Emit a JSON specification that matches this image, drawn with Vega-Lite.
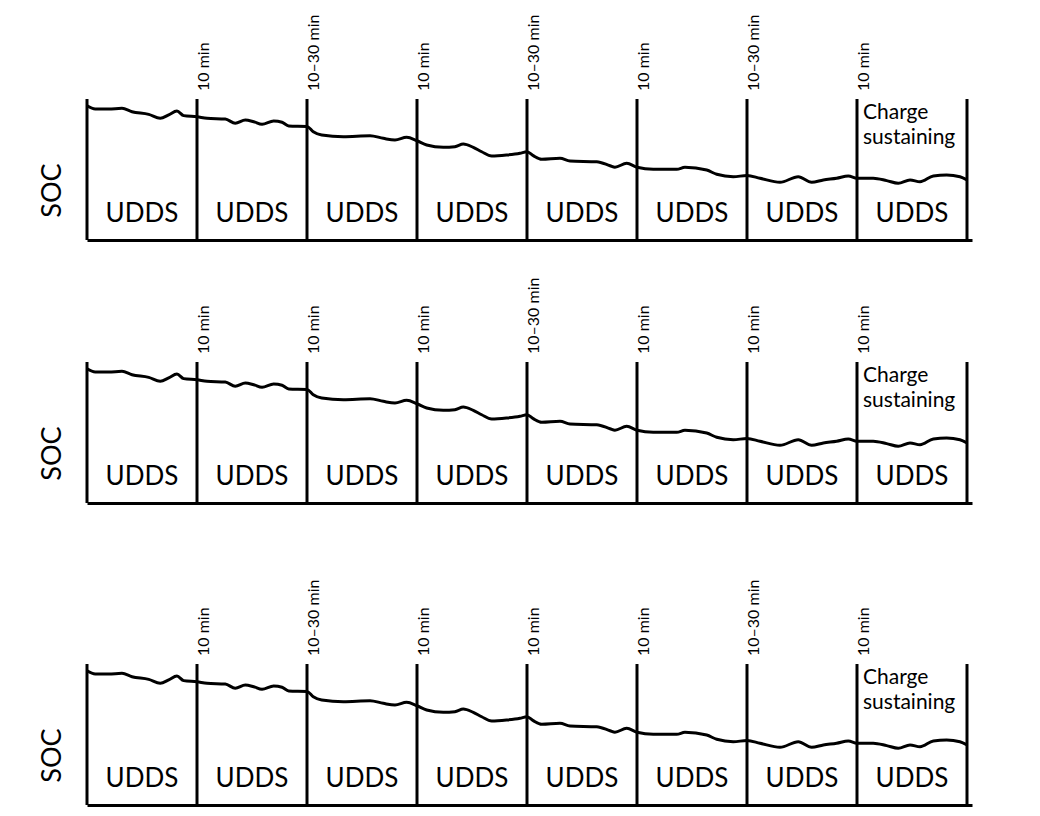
{
  "$schema": "https://vega.github.io/schema/vega-lite/v6.json",
  "background": "white",
  "padding": {"left": 38, "top": 14, "right": 5, "bottom": 5},
  "config": {
    "view": {"stroke": null},
    "font": "Lato"
  },
  "datasets": {
    "soc": [
      {"t": 0, "soc": 95.2}, {"t": 0.075, "soc": 92.9}, {"t": 0.197, "soc": 92.9}, {"t": 0.318, "soc": 93.4},
      {"t": 0.409, "soc": 91.0}, {"t": 0.561, "soc": 89.1}, {"t": 0.666, "soc": 86.3}, {"t": 0.743, "soc": 88.7},
      {"t": 0.818, "soc": 91.5}, {"t": 0.879, "soc": 88.2}, {"t": 1.0, "soc": 87.4}, {"t": 1.091, "soc": 86.3},
      {"t": 1.257, "soc": 85.8}, {"t": 1.348, "soc": 82.8}, {"t": 1.439, "soc": 85.1}, {"t": 1.515, "soc": 83.9},
      {"t": 1.591, "soc": 82.1}, {"t": 1.697, "soc": 84.4}, {"t": 1.773, "soc": 83.5}, {"t": 1.834, "soc": 80.9},
      {"t": 2.0, "soc": 80.5}, {"t": 2.057, "soc": 76.8}, {"t": 2.134, "soc": 74.5}, {"t": 2.33, "soc": 73.3},
      {"t": 2.573, "soc": 74.0}, {"t": 2.694, "soc": 72.1}, {"t": 2.8, "soc": 70.9}, {"t": 2.906, "soc": 72.8},
      {"t": 3.0, "soc": 70.4}, {"t": 3.088, "soc": 67.4}, {"t": 3.239, "soc": 65.7}, {"t": 3.345, "soc": 66.2},
      {"t": 3.421, "soc": 68.1}, {"t": 3.512, "soc": 65.7}, {"t": 3.588, "soc": 62.6}, {"t": 3.679, "soc": 59.6},
      {"t": 3.815, "soc": 60.3}, {"t": 3.936, "soc": 61.5}, {"t": 4.0, "soc": 62.6}, {"t": 4.057, "soc": 59.8},
      {"t": 4.134, "soc": 57.2}, {"t": 4.3, "soc": 57.9}, {"t": 4.391, "soc": 56.0}, {"t": 4.634, "soc": 55.5},
      {"t": 4.755, "soc": 52.7}, {"t": 4.8, "soc": 51.6}, {"t": 4.906, "soc": 54.4}, {"t": 5.0, "soc": 51.6},
      {"t": 5.148, "soc": 50.1}, {"t": 5.361, "soc": 50.1}, {"t": 5.436, "soc": 51.6}, {"t": 5.634, "soc": 49.6},
      {"t": 5.725, "soc": 46.6}, {"t": 5.875, "soc": 44.9}, {"t": 6.0, "soc": 45.7}, {"t": 6.118, "soc": 43.8},
      {"t": 6.3, "soc": 40.9}, {"t": 6.466, "soc": 44.9}, {"t": 6.588, "soc": 40.9}, {"t": 6.694, "soc": 42.6},
      {"t": 6.815, "soc": 43.8}, {"t": 6.921, "soc": 45.4}, {"t": 7.0, "soc": 43.8}, {"t": 7.148, "soc": 43.8},
      {"t": 7.27, "soc": 42.1}, {"t": 7.375, "soc": 40.2}, {"t": 7.482, "soc": 42.6}, {"t": 7.573, "soc": 41.3},
      {"t": 7.694, "soc": 45.4}, {"t": 7.815, "soc": 46.1}, {"t": 7.936, "soc": 44.9}, {"t": 8.0, "soc": 42.6}
    ],
    "seg": [
      {"t": 0.5, "label": "UDDS"}, {"t": 1.5, "label": "UDDS"}, {"t": 2.5, "label": "UDDS"}, {"t": 3.5, "label": "UDDS"},
      {"t": 4.5, "label": "UDDS"}, {"t": 5.5, "label": "UDDS"}, {"t": 6.5, "label": "UDDS"}, {"t": 7.5, "label": "UDDS"}
    ],
    "cs": [{"t": 7, "label": ["Charge", "sustaining"]}],
    "b1": [
      {"t": 0, "label": ""}, {"t": 1, "label": "10 min"}, {"t": 2, "label": "10–30 min"}, {"t": 3, "label": "10 min"},
      {"t": 4, "label": "10–30 min"}, {"t": 5, "label": "10 min"}, {"t": 6, "label": "10–30 min"}, {"t": 7, "label": "10 min"},
      {"t": 8, "label": ""}
    ],
    "b2": [
      {"t": 0, "label": ""}, {"t": 1, "label": "10 min"}, {"t": 2, "label": "10 min"}, {"t": 3, "label": "10 min"},
      {"t": 4, "label": "10–30 min"}, {"t": 5, "label": "10 min"}, {"t": 6, "label": "10 min"}, {"t": 7, "label": "10 min"},
      {"t": 8, "label": ""}
    ],
    "b3": [
      {"t": 0, "label": ""}, {"t": 1, "label": "10 min"}, {"t": 2, "label": "10–30 min"}, {"t": 3, "label": "10 min"},
      {"t": 4, "label": "10 min"}, {"t": 5, "label": "10 min"}, {"t": 6, "label": "10–30 min"}, {"t": 7, "label": "10 min"},
      {"t": 8, "label": ""}
    ]
  },
  "bounds": "flush",
  "spacing": 122,
  "vconcat": [
    {
      "width": 885, "height": 141,
      "layer": [
        {"data": {"name": "seg"}, "mark": {"type": "text", "font": "Lato", "fontSize": 26, "baseline": "alphabetic", "align": "center", "dy": -18, "color": "black"},
         "encoding": {
           "x": {"field": "t", "type": "quantitative", "scale": {"domain": [0, 8.0455], "nice": false, "zero": false},
                 "axis": {"domain": true, "domainColor": "black", "domainWidth": 3, "ticks": false, "labels": false, "grid": false, "title": null}},
           "y": {"datum": 0, "type": "quantitative", "scale": {"domain": [0, 100], "nice": false},
                 "axis": {"domain": false, "ticks": false, "labels": false, "grid": false, "title": "SOC", "titleFont": "Lato", "titleFontSize": 27, "titleFontWeight": "normal", "titleColor": "black", "titleAngle": 270, "titleX": -27, "titleY": 91, "titleAlign": "center", "titleBaseline": "alphabetic"}},
           "text": {"field": "label"}}},
        {"data": {"name": "soc"}, "mark": {"type": "line", "color": "black", "strokeWidth": 3, "interpolate": "monotone"},
         "encoding": {"x": {"field": "t", "type": "quantitative"}, "y": {"field": "soc", "type": "quantitative"}}},
        {"data": {"name": "b1"}, "mark": {"type": "rule", "color": "black", "strokeWidth": 3},
         "encoding": {"x": {"field": "t", "type": "quantitative"}, "y": {"datum": 0}, "y2": {"datum": 100}}},
        {"data": {"name": "b1"}, "mark": {"type": "text", "font": "Lato", "fontSize": 16, "angle": 270, "align": "left", "baseline": "alphabetic", "dx": 8, "dy": 12, "color": "black"},
         "encoding": {"x": {"field": "t", "type": "quantitative"}, "y": {"datum": 100}, "text": {"field": "label"}}},
        {"data": {"name": "cs"}, "mark": {"type": "text", "font": "Lato", "fontSize": 21, "align": "left", "baseline": "alphabetic", "dx": 6, "dy": 20, "lineHeight": 25, "color": "black"},
         "encoding": {"x": {"field": "t", "type": "quantitative"}, "y": {"datum": 100}, "text": {"field": "label"}}}
      ]
    },
    {
      "width": 885, "height": 141,
      "layer": [
        {"data": {"name": "seg"}, "mark": {"type": "text", "font": "Lato", "fontSize": 26, "baseline": "alphabetic", "align": "center", "dy": -18, "color": "black"},
         "encoding": {
           "x": {"field": "t", "type": "quantitative", "scale": {"domain": [0, 8.0455], "nice": false, "zero": false},
                 "axis": {"domain": true, "domainColor": "black", "domainWidth": 3, "ticks": false, "labels": false, "grid": false, "title": null}},
           "y": {"datum": 0, "type": "quantitative", "scale": {"domain": [0, 100], "nice": false},
                 "axis": {"domain": false, "ticks": false, "labels": false, "grid": false, "title": "SOC", "titleFont": "Lato", "titleFontSize": 27, "titleFontWeight": "normal", "titleColor": "black", "titleAngle": 270, "titleX": -27, "titleY": 91, "titleAlign": "center", "titleBaseline": "alphabetic"}},
           "text": {"field": "label"}}},
        {"data": {"name": "soc"}, "mark": {"type": "line", "color": "black", "strokeWidth": 3, "interpolate": "monotone"},
         "encoding": {"x": {"field": "t", "type": "quantitative"}, "y": {"field": "soc", "type": "quantitative"}}},
        {"data": {"name": "b2"}, "mark": {"type": "rule", "color": "black", "strokeWidth": 3},
         "encoding": {"x": {"field": "t", "type": "quantitative"}, "y": {"datum": 0}, "y2": {"datum": 100}}},
        {"data": {"name": "b2"}, "mark": {"type": "text", "font": "Lato", "fontSize": 16, "angle": 270, "align": "left", "baseline": "alphabetic", "dx": 8, "dy": 12, "color": "black"},
         "encoding": {"x": {"field": "t", "type": "quantitative"}, "y": {"datum": 100}, "text": {"field": "label"}}},
        {"data": {"name": "cs"}, "mark": {"type": "text", "font": "Lato", "fontSize": 21, "align": "left", "baseline": "alphabetic", "dx": 6, "dy": 20, "lineHeight": 25, "color": "black"},
         "encoding": {"x": {"field": "t", "type": "quantitative"}, "y": {"datum": 100}, "text": {"field": "label"}}}
      ]
    },
    {
      "width": 885, "height": 180,
      "layer": [
        {"data": {"name": "seg"}, "mark": {"type": "text", "font": "Lato", "fontSize": 26, "baseline": "alphabetic", "align": "center", "dy": -18, "color": "black"},
         "encoding": {
           "x": {"field": "t", "type": "quantitative", "scale": {"domain": [0, 8.0455], "nice": false, "zero": false},
                 "axis": {"domain": true, "domainColor": "black", "domainWidth": 3, "ticks": false, "labels": false, "grid": false, "title": null}},
           "y": {"datum": 0, "type": "quantitative", "scale": {"domain": [0, 127.66], "nice": false},
                 "axis": {"domain": false, "ticks": false, "labels": false, "grid": false, "title": "SOC", "titleFont": "Lato", "titleFontSize": 27, "titleFontWeight": "normal", "titleColor": "black", "titleAngle": 270, "titleX": -27, "titleY": 130, "titleAlign": "center", "titleBaseline": "alphabetic"}},
           "text": {"field": "label"}}},
        {"data": {"name": "soc"}, "mark": {"type": "line", "color": "black", "strokeWidth": 3, "interpolate": "monotone"},
         "encoding": {"x": {"field": "t", "type": "quantitative"}, "y": {"field": "soc", "type": "quantitative"}}},
        {"data": {"name": "b3"}, "mark": {"type": "rule", "color": "black", "strokeWidth": 3},
         "encoding": {"x": {"field": "t", "type": "quantitative"}, "y": {"datum": 0}, "y2": {"datum": 100}}},
        {"data": {"name": "b3"}, "mark": {"type": "text", "font": "Lato", "fontSize": 16, "angle": 270, "align": "left", "baseline": "alphabetic", "dx": 8, "dy": 12, "color": "black"},
         "encoding": {"x": {"field": "t", "type": "quantitative"}, "y": {"datum": 100}, "text": {"field": "label"}}},
        {"data": {"name": "cs"}, "mark": {"type": "text", "font": "Lato", "fontSize": 21, "align": "left", "baseline": "alphabetic", "dx": 6, "dy": 20, "lineHeight": 25, "color": "black"},
         "encoding": {"x": {"field": "t", "type": "quantitative"}, "y": {"datum": 100}, "text": {"field": "label"}}}
      ]
    }
  ]
}
